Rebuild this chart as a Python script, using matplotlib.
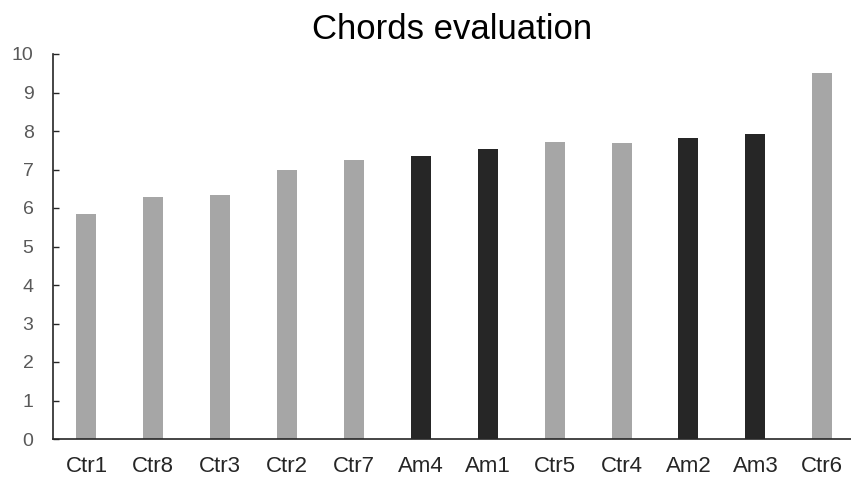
import matplotlib.pyplot as plt

plt.rcParams['font.family'] = ['Liberation Sans', 'DejaVu Sans']

chords = ["Ctr1", "Ctr8", "Ctr3", "Ctr2", "Ctr7", "Am4", "Am1",
          "Ctr5", "Ctr4", "Am2", "Am3", "Ctr6"]
scores = [5.85, 6.28, 6.33, 7.0, 7.24, 7.34, 7.53, 7.72, 7.68, 7.82, 7.92, 9.51]

LIGHT = "#a6a6a6"
DARK = "#262626"
colors = [DARK if c.startswith("Am") else LIGHT for c in chords]

fig = plt.figure(figsize=(8.51, 4.79), dpi=100)
ax = fig.add_axes([53 / 851, 40 / 479, 1 - 53 / 851, 385 / 479])

x = range(len(chords))
ax.bar(x, scores, width=0.3, color=colors)

ax.set_xlim(-0.5, 11.43)
ax.set_ylim(0, 10)
ax.set_yticks(range(0, 11))
ax.set_xticks(list(x))
ax.set_xticklabels(chords)

for side in ["top", "right"]:
    ax.spines[side].set_visible(False)
for side in ["left", "bottom"]:
    ax.spines[side].set_color("#262626")
    ax.spines[side].set_linewidth(1.2)

# short inward ticks on the value axis, none on the category axis
ax.tick_params(axis="y", direction="in", length=4.5, width=1, color="#262626",
               labelsize=14, labelcolor="#595959", pad=14)
ax.tick_params(axis="x", length=0, labelsize=16, labelcolor="#262626", pad=12)

ax.set_title("Chords evaluation", fontsize=25, color="#000000", pad=11)

fig.savefig("out.png", dpi=100)
